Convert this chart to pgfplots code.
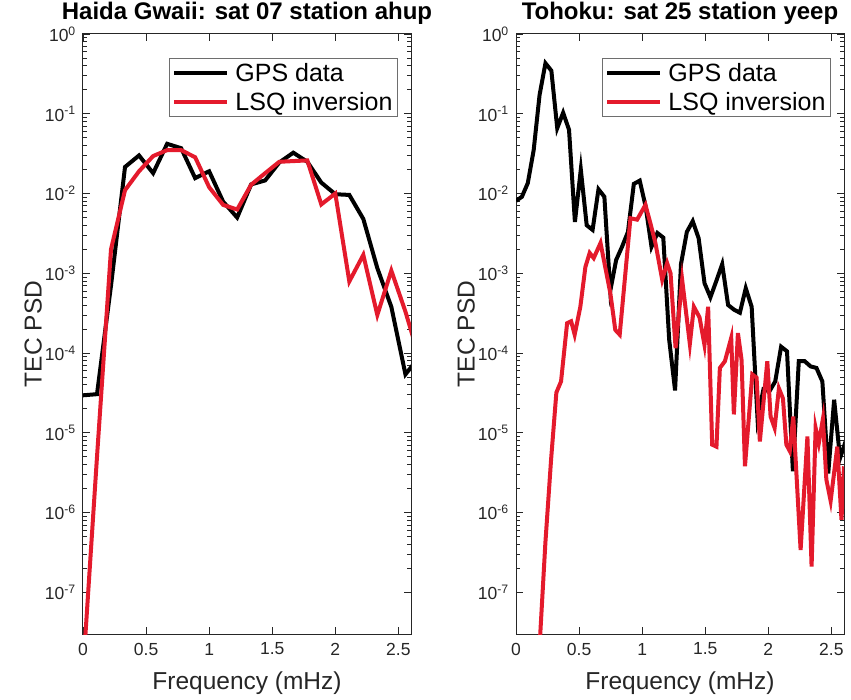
\documentclass[border=0pt]{standalone}
\usepackage{fontspec}
\setmainfont{Liberation Sans}
\usepackage{pgfplots}
\usepackage{pgfplotstable}
\pgfplotsset{compat=1.18}

\definecolor{axgray}{gray}{0.15}
\definecolor{lsqred}{RGB}{228,26,44}

% Haida Gwaii, sat 07 station ahup
\pgfplotstableread{
f val
0.000 2.95e-5
0.111 3.05e-5
0.222 7e-4
0.333 2.15e-2
0.444 3.0e-2
0.556 1.8e-2
0.667 4.2e-2
0.778 3.7e-2
0.889 1.56e-2
1.000 1.9e-2
1.111 7.9e-3
1.222 5.0e-3
1.333 1.3e-2
1.444 1.46e-2
1.556 2.45e-2
1.667 3.25e-2
1.778 2.5e-2
1.889 1.37e-2
2.000 9.8e-3
2.111 9.6e-3
2.222 4.8e-3
2.333 1.16e-3
2.444 3.8e-4
2.556 5.4e-5
2.667 9e-5
}\haidagps

\pgfplotstableread{
f val
0.000 1e-8
0.111 5e-6
0.222 2e-3
0.333 1.1e-2
0.444 1.9e-2
0.556 2.95e-2
0.667 3.5e-2
0.778 3.5e-2
0.889 2.85e-2
1.000 1.2e-2
1.111 7.2e-3
1.222 6.3e-3
1.333 1.29e-2
1.444 1.8e-2
1.556 2.5e-2
1.667 2.55e-2
1.778 2.6e-2
1.889 7.3e-3
2.000 1.0e-2
2.111 7.9e-4
2.222 1.7e-3
2.333 3.0e-4
2.444 1.08e-3
2.556 3.3e-4
2.667 8.5e-5
}\haidalsq

% Tohoku, sat 25 station yeep
\pgfplotstableread{
f val
0.0000 8.1e-3
0.0467 9.1e-3
0.0934 1.35e-2
0.1401 3.5e-2
0.1868 0.172
0.2335 0.43
0.2802 0.347
0.3269 6.6e-2
0.3736 0.103
0.4203 6.3e-2
0.4670 4.4e-3
0.5137 2.0e-2
0.5604 4.0e-3
0.6071 3.5e-3
0.6538 1.13e-2
0.7005 9.1e-3
0.7472 6.0e-4
0.7939 1.47e-3
0.8406 2.15e-3
0.8873 3.3e-3
0.9340 1.32e-2
0.9807 1.45e-2
1.0274 6.9e-3
1.0741 2.15e-3
1.1208 3.2e-3
1.1675 2.8e-3
1.2142 1.47e-4
1.2609 3.4e-5
1.3076 1.3e-3
1.3543 3.3e-3
1.4010 4.5e-3
1.4477 2.75e-3
1.4944 7.5e-4
1.5411 5.0e-4
1.5878 8.0e-4
1.6345 1.3e-3
1.6812 4.0e-4
1.7279 3.5e-4
1.7746 3.2e-4
1.8213 6.5e-4
1.8680 3.8e-4
1.9147 1.5e-5
1.9614 3.5e-5
2.0081 3.3e-5
2.0548 4.4e-5
2.1015 1.2e-4
2.1482 1.05e-4
2.1949 3.3e-6
2.2416 7.9e-5
2.2883 7.9e-5
2.3350 6.8e-5
2.3817 6.5e-5
2.4284 4.4e-5
2.4751 3.1e-6
2.5218 2.6e-5
2.5685 4.8e-6
2.6152 8e-6
}\tohokugps

\pgfplotstableread{
f val
0.140 1e-10
0.186 2e-8
0.233 4.2e-7
0.278 4.6e-6
0.320 3.2e-5
0.357 4.4e-5
0.405 2.36e-4
0.437 2.5e-4
0.465 1.7e-4
0.510 3.8e-4
0.550 1.2e-3
0.584 1.8e-3
0.616 1.55e-3
0.670 2.4e-3
0.748 5.6e-4
0.787 1.95e-4
0.822 1.7e-4
0.867 1.0e-3
0.907 4.9e-3
0.960 4.7e-3
1.026 7.2e-3
1.066 4.2e-3
1.105 2.4e-3
1.159 8.3e-4
1.198 1.34e-3
1.225 1.0e-3
1.265 1.15e-4
1.317 8.3e-4
1.378 1.3e-4
1.410 3.8e-4
1.455 2.8e-4
1.494 1.26e-4
1.523 3.8e-4
1.555 7.1e-6
1.589 6.7e-6
1.616 6.5e-5
1.656 7.9e-5
1.706 1.55e-4
1.727 1.7e-5
1.759 1.78e-4
1.788 8.2e-5
1.815 3.8e-6
1.873 5.4e-5
1.907 4.9e-5
1.933 7.8e-6
1.992 7.9e-5
2.018 1.6e-5
2.050 1.15e-5
2.084 3.6e-5
2.116 2.7e-5
2.143 7.1e-6
2.170 5.9e-6
2.198 1.6e-5
2.256 3.4e-7
2.310 9e-6
2.343 2.1e-7
2.375 1.15e-5
2.400 7.4e-6
2.433 1.5e-5
2.460 2.6e-6
2.494 1.4e-6
2.547 6.7e-6
2.580 8.1e-7
2.600 3.8e-6
}\tohokulsq

\pgfplotsset{
  legend image code/.code={\draw[#1] (0bp,0bp) -- (53bp,0bp); \path (57bp,0bp);},
}

\begin{document}
\begin{tikzpicture}
\path[use as bounding box] (-83bp,-66bp) rectangle (768bp,634bp);

\pgfplotsset{
  every axis/.append style={
    width=328bp, height=600bp, scale only axis,
    xmin=0, xmax=2.6, ymin=3e-8, ymax=1,
    xtick={0,0.5,1,1.5,2,2.5},
    xticklabels={0,0.5,1,1.5,2,2.5},
    ytick={1e-7,1e-6,1e-5,1e-4,1e-3,1e-2,1e-1,1},
    yticklabels={10\textsuperscript{-7},10\textsuperscript{-6},10\textsuperscript{-5},
      10\textsuperscript{-4},10\textsuperscript{-3},10\textsuperscript{-2},
      10\textsuperscript{-1},10\textsuperscript{0}},
    tick pos=both, tick align=inside,
    major tick length=7bp, minor tick length=4bp,
    axis line style={axgray, line width=1bp},
    every tick/.style={axgray, line width=0.8bp},
    ticklabel style={font=\fontsize{17.5bp}{20bp}\selectfont, text=axgray},
    xticklabel style={anchor=center, yshift=-15bp},
    yticklabel style={anchor=east, inner sep=0pt, xshift=-7bp},
    xlabel={Frequency (mHz)}, ylabel={TEC PSD},
    label style={font=\fontsize{24.5bp}{28bp}\selectfont, text=axgray},
    xlabel style={at={(axis description cs:0.5,-0.082)}, anchor=center},
    ylabel style={at={(axis description cs:-0.152,0.5)}, anchor=center},
    title style={font=\bfseries\fontsize{24bp}{27bp}\selectfont,
      at={(axis description cs:0.5,1)}, anchor=base, yshift=9bp},
    legend style={at={(axis description cs:0.262,0.96)}, anchor=north west,
      draw={rgb,255:red,110;green,110;blue,110}, line width=1bp,
      font=\fontsize{25bp}{28bp}\selectfont, inner xsep=3bp, inner ysep=3bp,
      row sep=5bp},
    legend cell align=left,
  },
  every axis plot/.append style={line width=4bp, line join=miter},
}

\begin{semilogyaxis}[at={(0,0)}, anchor=south west,
  title={Haida Gwaii: sat 07 station ahup}]
\addplot[black] table[x=f, y=val] {\haidagps};
\addlegendentry{GPS data}
\addplot[lsqred] table[x=f, y=val] {\haidalsq};
\addlegendentry{LSQ inversion}
\end{semilogyaxis}

\begin{semilogyaxis}[at={(433bp,0)}, anchor=south west,
  title={Tohoku: sat 25 station yeep}]
\addplot[black] table[x=f, y=val] {\tohokugps};
\addlegendentry{GPS data}
\addplot[lsqred] table[x=f, y=val] {\tohokulsq};
\addlegendentry{LSQ inversion}
\end{semilogyaxis}
\end{tikzpicture}
\end{document}
